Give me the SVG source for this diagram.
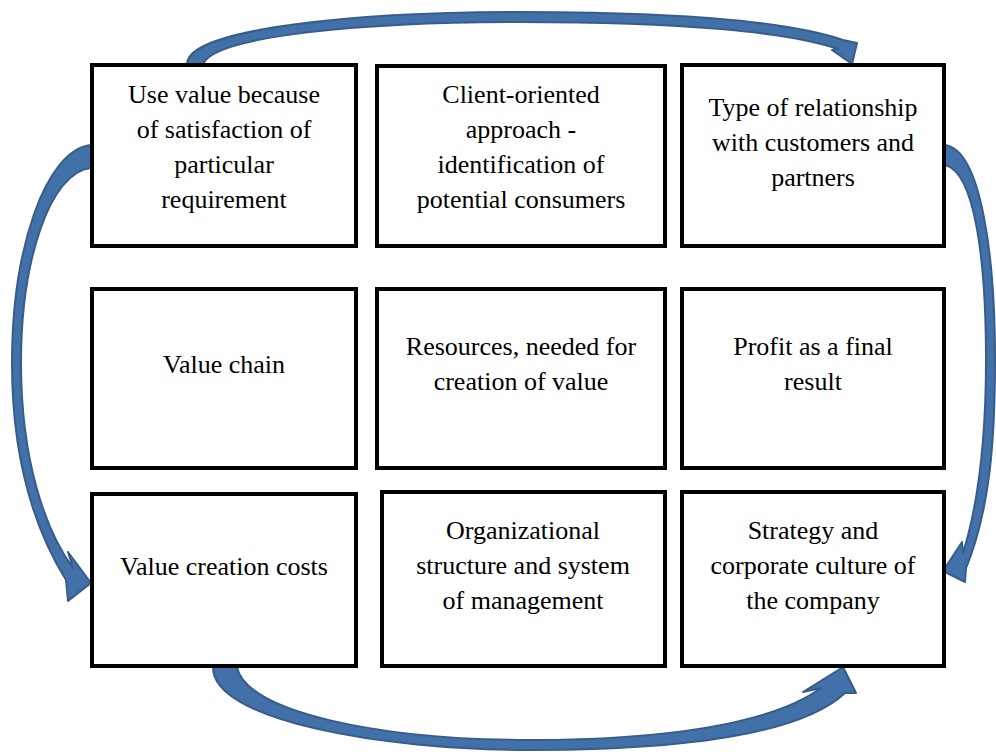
<svg xmlns="http://www.w3.org/2000/svg" width="996" height="754" viewBox="0 0 996 754">
<style>
.box{fill:#ffffff;stroke:#000000;stroke-width:4}
.t{font-family:'Liberation Serif','DejaVu Serif','Noto Serif',serif;font-size:26px;fill:#000000;text-anchor:middle}
.arr{fill:#4270a8;stroke:#385d8a;stroke-width:2;stroke-linejoin:round}
</style>
<rect width="996" height="754" fill="#ffffff"/>
<g id="connectors">
<path class="arr" d="M 187 64 C 188 28 360 12 520 12 C 680 12 790 22 843 40 L 857 43 L 852 64 L 832 50 L 838 49 C 790 32 680 22 520 22 C 370 22 215 35 203 64 Z"/>
<path class="arr" d="M 91 145 C 45 150 12 250 12 363 C 12 460 35 530 66 580 L 68 601 L 91 583 L 68 552 L 73 568 C 45 530 21 460 21 363 C 21 260 50 172 91 168 Z"/>
<path class="arr" d="M 945 145 C 982 150 995 260 995 360 C 995 440 990 510 966 568 L 965 582 L 943 571 L 962 542 L 963 553 C 978 505 986 440 986 360 C 986 260 975 172 945 165 Z"/>
<path class="arr" d="M 213 667 C 212 720 380 750 530 750 C 680 750 800 735 845 693 L 856 693 L 843 667 L 803 692 L 821 688 C 770 725 660 740 530 740 C 380 740 245 712 237 667 Z"/>
</g>
<g id="n1"><rect class="box" x="92" y="65" width="264" height="181"/>
<text class="t" x="224" y="103">Use value because</text><text class="t" x="224" y="138">of satisfaction of</text><text class="t" x="224" y="173">particular</text><text class="t" x="224" y="208">requirement</text></g>
<g id="n2"><rect class="box" x="377" y="66" width="288" height="180"/>
<text class="t" x="521" y="103">Client-oriented</text><text class="t" x="521" y="138">approach -</text><text class="t" x="521" y="173">identification of</text><text class="t" x="521" y="208">potential consumers</text></g>
<g id="n3"><rect class="box" x="682" y="65" width="262" height="181"/>
<text class="t" x="813" y="116">Type of relationship</text><text class="t" x="813" y="151">with customers and</text><text class="t" x="813" y="186">partners</text></g>
<g id="n4"><rect class="box" x="92" y="289" width="264" height="179"/>
<text class="t" x="224" y="373">Value chain</text></g>
<g id="n5"><rect class="box" x="377" y="289" width="288" height="179"/>
<text class="t" x="521" y="355">Resources, needed for</text><text class="t" x="521" y="390">creation of value</text></g>
<g id="n6"><rect class="box" x="682" y="289" width="262" height="179"/>
<text class="t" x="813" y="355">Profit as a final</text><text class="t" x="813" y="390">result</text></g>
<g id="n7"><rect class="box" x="92" y="494" width="264" height="172"/>
<text class="t" x="224" y="575">Value creation costs</text></g>
<g id="n8"><rect class="box" x="382" y="492" width="283" height="174"/>
<text class="t" x="523" y="539">Organizational</text><text class="t" x="523" y="574">structure and system</text><text class="t" x="523" y="609">of management</text></g>
<g id="n9"><rect class="box" x="682" y="492" width="262" height="174"/>
<text class="t" x="813" y="539">Strategy and</text><text class="t" x="813" y="574">corporate culture of</text><text class="t" x="813" y="609">the company</text></g>
</svg>
